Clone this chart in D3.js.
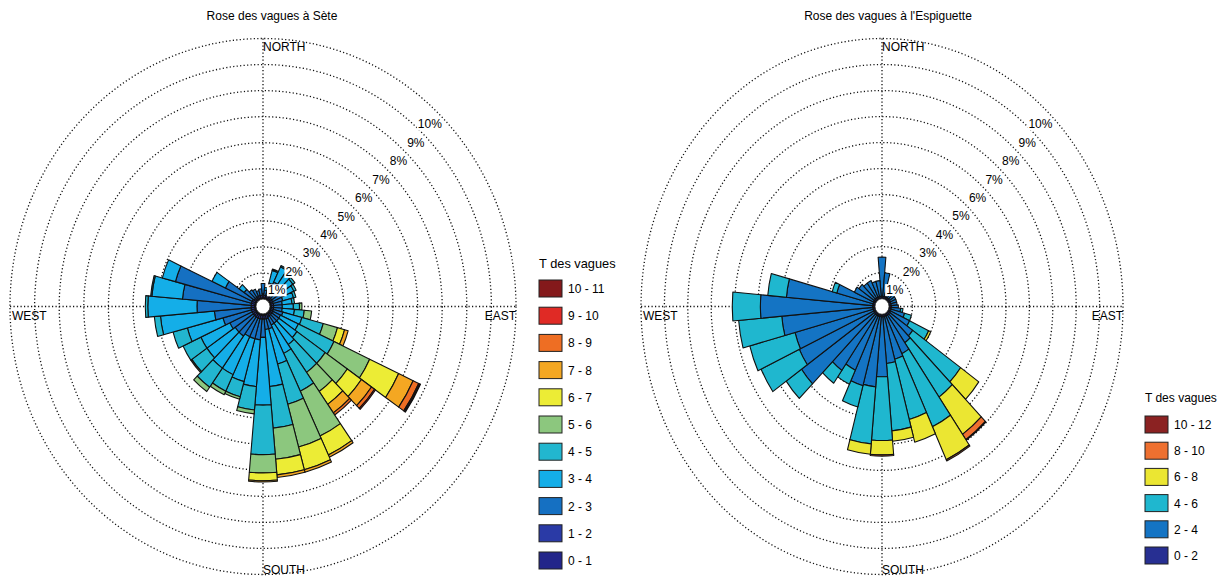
<!DOCTYPE html>
<html><head><meta charset="utf-8">
<script src="https://cdn.jsdelivr.net/npm/d3@7"></script>
<style>
body{margin:0;background:#fff;}
text{font-family:"Liberation Sans",Arial,sans-serif;font-size:12px;fill:#000;}
</style></head>
<body><svg id="c" width="1225" height="577"></svg>
<script>
// ---------- DATA ----------
const directions = d3.range(0, 360, 10);           // sector centres (deg, clockwise from north)
const ringTicks = [1,2,3,4,5,6,7,8,9,10];
const ringLabels = ["1%","2%","3%","4%","5%","6%","7%","8%","9%","10%"];
const compassLabels = ["NORTH","EAST","SOUTH","WEST"];

// Sète : wave period classes (s)
const seteClasses = ["0 - 1","1 - 2","2 - 3","3 - 4","4 - 5","5 - 6","6 - 7","7 - 8","8 - 9","9 - 10","10 - 11"];
const seteColors  = ["#23258a","#2a3aa6","#1570c2","#14aee8","#22b6cf","#8cc77e","#ecec35","#f4a722","#ee6e23","#e02a25","#84191b"];
// one array per class, 36 directions (0,10,...,350)
const sete_0_1  = [0.05,0.05,0.05,0.05,0.05,0.05,0.05,0.05,0.05,0.05,0.05,0.05,0.05,0.05,0.05,0.05,0.05,0.05,0.05,0.05,0.05,0.05,0.05,0.05,0.05,0.05,0.05,0.05,0.05,0.05,0.05,0.05,0.05,0.05,0.05,0.05];
const sete_1_2  = [0.15,0.10,0.10,0.10,0.10,0.10,0.10,0.10,0.10,0.10,0.10,0.10,0.10,0.10,0.10,0.10,0.15,0.15,0.15,0.15,0.15,0.15,0.15,0.15,0.15,0.15,0.15,0.15,0.15,0.15,0.15,0.10,0.10,0.10,0.10,0.10];
const sete_2_3  = [0.40,0.20,0.50,0.60,0.55,0.50,0.45,0.40,0.35,0.35,0.35,0.40,0.35,0.35,0.35,0.35,0.40,0.40,0.70,0.80,0.80,0.80,0.90,0.90,1.00,1.20,1.50,2.20,2.80,3.20,1.20,0.50,0.35,0.30,0.20,0.25];
const sete_3_4  = [0.00,0.10,0.50,0.65,0.60,0.55,0.50,0.45,0.40,0.45,0.50,0.80,0.80,0.90,1.00,1.20,1.40,2.20,2.60,1.80,1.70,1.60,1.50,1.40,1.30,1.50,2.20,2.00,1.25,0.55,0.60,0.25,0.00,0.00,0.00,0.00];
const sete_4_5  = [0.00,0.00,0.05,0.05,0.10,0.10,0.10,0.10,0.10,0.25,0.40,0.90,1.60,1.40,1.30,1.60,1.60,1.60,1.90,0.90,0.60,0.70,0.90,0.75,0.80,0.60,0.25,0.10,0.05,0.00,0.00,0.00,0.00,0.00,0.00,0.00];
const sete_5_6  = [0.00,0.00,0.00,0.00,0.00,0.00,0.00,0.00,0.00,0.10,0.30,0.60,1.60,1.10,0.90,1.90,1.70,1.20,0.70,0.15,0.10,0.15,0.20,0.05,0.00,0.00,0.00,0.00,0.00,0.00,0.00,0.00,0.00,0.00,0.00,0.00];
const sete_6_7  = [0.00,0.00,0.00,0.00,0.00,0.00,0.00,0.00,0.00,0.00,0.00,0.30,1.30,0.70,0.60,0.80,0.90,0.60,0.30,0.00,0.00,0.00,0.00,0.00,0.00,0.00,0.00,0.00,0.00,0.00,0.00,0.00,0.00,0.00,0.00,0.00];
const sete_7_8  = [0.00,0.00,0.00,0.00,0.00,0.00,0.00,0.00,0.00,0.00,0.00,0.15,0.65,0.50,0.40,0.10,0.10,0.10,0.05,0.00,0.00,0.00,0.00,0.00,0.00,0.00,0.00,0.00,0.00,0.00,0.00,0.00,0.00,0.00,0.00,0.00];
const sete_8_9  = [0.00,0.00,0.00,0.00,0.00,0.00,0.00,0.00,0.00,0.00,0.00,0.00,0.25,0.15,0.10,0.00,0.00,0.00,0.00,0.00,0.00,0.00,0.00,0.00,0.00,0.00,0.00,0.00,0.00,0.00,0.00,0.00,0.00,0.00,0.00,0.00];
const sete_9_10 = [0.00,0.00,0.00,0.00,0.00,0.00,0.00,0.00,0.00,0.00,0.00,0.00,0.05,0.05,0.00,0.00,0.00,0.00,0.00,0.00,0.00,0.00,0.00,0.00,0.00,0.00,0.00,0.00,0.00,0.00,0.00,0.00,0.00,0.00,0.00,0.00];
const sete_10_11= [0.00,0.00,0.00,0.00,0.00,0.00,0.00,0.00,0.00,0.00,0.00,0.00,0.03,0.00,0.00,0.00,0.00,0.00,0.00,0.00,0.00,0.00,0.00,0.00,0.00,0.00,0.00,0.00,0.00,0.00,0.00,0.00,0.00,0.00,0.00,0.00];

// L'Espiguette
const espiClasses = ["0 - 2","2 - 4","4 - 6","6 - 8","8 - 10","10 - 12"];
const espiColors  = ["#272f92","#1474c4","#1fb7cf","#ebe632","#ee7030","#8b2222"];
const espi_0_2   = [0.10,0.10,0.10,0.10,0.10,0.10,0.10,0.10,0.10,0.10,0.10,0.10,0.10,0.10,0.10,0.10,0.10,0.10,0.10,0.10,0.10,0.10,0.10,0.10,0.10,0.10,0.10,0.10,0.10,0.10,0.10,0.10,0.10,0.10,0.10,0.10];
const espi_2_4   = [1.50,0.90,0.40,0.30,0.30,0.25,0.25,0.25,0.25,0.30,0.40,0.60,0.90,1.20,1.30,1.60,1.70,1.80,2.30,2.70,2.75,2.30,2.60,3.80,3.50,3.45,3.90,4.80,3.70,1.60,0.90,0.80,0.70,0.70,0.60,0.60];
const espi_4_6   = [0.00,0.00,0.00,0.00,0.00,0.00,0.00,0.00,0.00,0.00,0.10,0.30,0.90,2.50,2.55,3.10,2.40,2.60,2.45,2.20,0.85,0.60,0.60,0.80,1.80,2.00,1.85,1.20,0.80,0.20,0.00,0.00,0.00,0.00,0.00,0.00];
const espi_6_8   = [0.00,0.00,0.00,0.00,0.00,0.00,0.00,0.00,0.00,0.00,0.00,0.00,0.10,0.95,1.75,1.40,0.90,0.40,0.55,0.40,0.00,0.00,0.00,0.00,0.00,0.00,0.00,0.00,0.00,0.00,0.00,0.00,0.00,0.00,0.00,0.00];
const espi_8_10  = [0.00,0.00,0.00,0.00,0.00,0.00,0.00,0.00,0.00,0.00,0.00,0.00,0.00,0.00,0.25,0.05,0.00,0.00,0.05,0.00,0.00,0.00,0.00,0.00,0.00,0.00,0.00,0.00,0.00,0.00,0.00,0.00,0.00,0.00,0.00,0.00];
const espi_10_12 = [0.00,0.00,0.00,0.00,0.00,0.00,0.00,0.00,0.00,0.00,0.00,0.00,0.00,0.00,0.03,0.00,0.00,0.00,0.00,0.00,0.00,0.00,0.00,0.00,0.00,0.00,0.00,0.00,0.00,0.00,0.00,0.00,0.00,0.00,0.00,0.00];

// ---------- DRAW ----------
const svg = d3.select("#c");

function drawRose(opt){
  const {cx, cy, rOuter, ky, series, colors, title, titleX} = opt;
  const r = d3.scaleLinear().domain([0,10]).range([7, rOuter]);
  const rad = d3.scaleLinear().domain([0,360]).range([0, 2*Math.PI]);
  const g = svg.append("g").attr("transform",`translate(${cx},${cy}) scale(1,${ky})`);
  const dotted = s => s.attr("fill","none").attr("stroke","#111").attr("stroke-width",1.3)
                      .attr("stroke-dasharray","1.2 2.3").attr("vector-effect","non-scaling-stroke");
  // rings
  g.selectAll("circle.ring").data(ringTicks).join("circle").attr("class","ring")
    .attr("r", d=>r(d)).call(dotted);
  // axes
  g.append("line").attr("x1",-r(10)).attr("x2",r(10)).attr("y1",0).attr("y2",0).call(dotted);
  g.append("line").attr("y1",-r(10)).attr("y2",r(10)).attr("x1",0).attr("x2",0).call(dotted);
  // bars
  const arc = d3.arc();
  const segs = [];
  directions.forEach((dir,i)=>{
    let acc = 0;
    series.forEach((s,k)=>{
      const v = s[i];
      if(v>0){ segs.push({dir, k, a0:acc, a1:acc+v}); acc += v; }
    });
  });
  g.selectAll("path.seg").data(segs).join("path").attr("class","seg")
    .attr("d", d=>arc({innerRadius:r(d.a0), outerRadius:r(d.a1),
                       startAngle:rad(d.dir-5), endAngle:rad(d.dir+5)}))
    .attr("fill", d=>colors[d.k]).attr("stroke","#111").attr("stroke-width",1.1)
    .attr("stroke-linejoin","round").attr("vector-effect","non-scaling-stroke");
  // hole
  g.append("circle").attr("r",7).attr("fill","#fff").attr("stroke","#222").attr("stroke-width",0.8)
    .attr("vector-effect","non-scaling-stroke");
  // percent labels at 45 deg
  const s45 = Math.SQRT1_2;
  ringTicks.forEach((t,i)=>{
    const x = cx + r(t)*s45, y = cy - r(t)*s45*ky + 11.5;
    const tx = svg.append("text").attr("x",x).attr("y",y).attr("text-anchor","end").text(ringLabels[i]);
    const bb = tx.node().getBBox();
    svg.insert("rect", function(){return tx.node();})
      .attr("x",bb.x-1).attr("y",bb.y+1).attr("width",bb.width+2).attr("height",bb.height-2).attr("fill","#fff");
  });
  // compass labels
  const R = r(10);
  svg.append("text").attr("x",cx).attr("y",cy - R*ky + 12).text(compassLabels[0]);
  svg.append("text").attr("x",cx + R).attr("y",cy+13).attr("text-anchor","end").text(compassLabels[1]);
  svg.append("text").attr("x",cx).attr("y",cy + R*ky - 1).text(compassLabels[2]);
  svg.append("text").attr("x",cx - R + 2).attr("y",cy+13).text(compassLabels[3]);
  // title
  svg.append("text").attr("x",titleX).attr("y",20).attr("text-anchor","middle").text(title);
}

function drawLegend(opt){
  const {x, yTitle, yFirst, pitch, classes, colors, titleSize} = opt;
  svg.append("text").attr("x",x).attr("y",yTitle).style("font-size",titleSize+"px").text("T des vagues");
  const order = d3.range(classes.length).reverse();
  const y = d3.scaleBand().domain(order).range([yFirst, yFirst + pitch*classes.length]).paddingInner(0);
  order.forEach(k=>{
    svg.append("rect").attr("x",x).attr("y",y(k)).attr("width",23).attr("height",17)
      .attr("fill",colors[k]).attr("stroke","#222").attr("stroke-width",1);
    svg.append("text").attr("x",x+29).attr("y",y(k)+13).text(classes[k]);
  });
}

drawRose({cx:263, cy:306.5, rOuter:253, ky:268/253,
  series:[sete_0_1,sete_1_2,sete_2_3,sete_3_4,sete_4_5,sete_5_6,sete_6_7,sete_7_8,sete_8_9,sete_9_10,sete_10_11],
  colors:seteColors, title:"Rose des vagues à Sète", titleX:272});
drawRose({cx:882, cy:306.5, rOuter:241, ky:268/241,
  series:[espi_0_2,espi_2_4,espi_4_6,espi_6_8,espi_8_10,espi_10_12],
  colors:espiColors, title:"Rose des vagues à l'Espiguette", titleX:888});
drawLegend({x:539, yTitle:268, yFirst:280, pitch:27.2, classes:seteClasses, colors:seteColors, titleSize:12.8});
drawLegend({x:1145, yTitle:402, yFirst:416, pitch:26.2, classes:espiClasses, colors:espiColors, titleSize:12});
</script></body></html>
